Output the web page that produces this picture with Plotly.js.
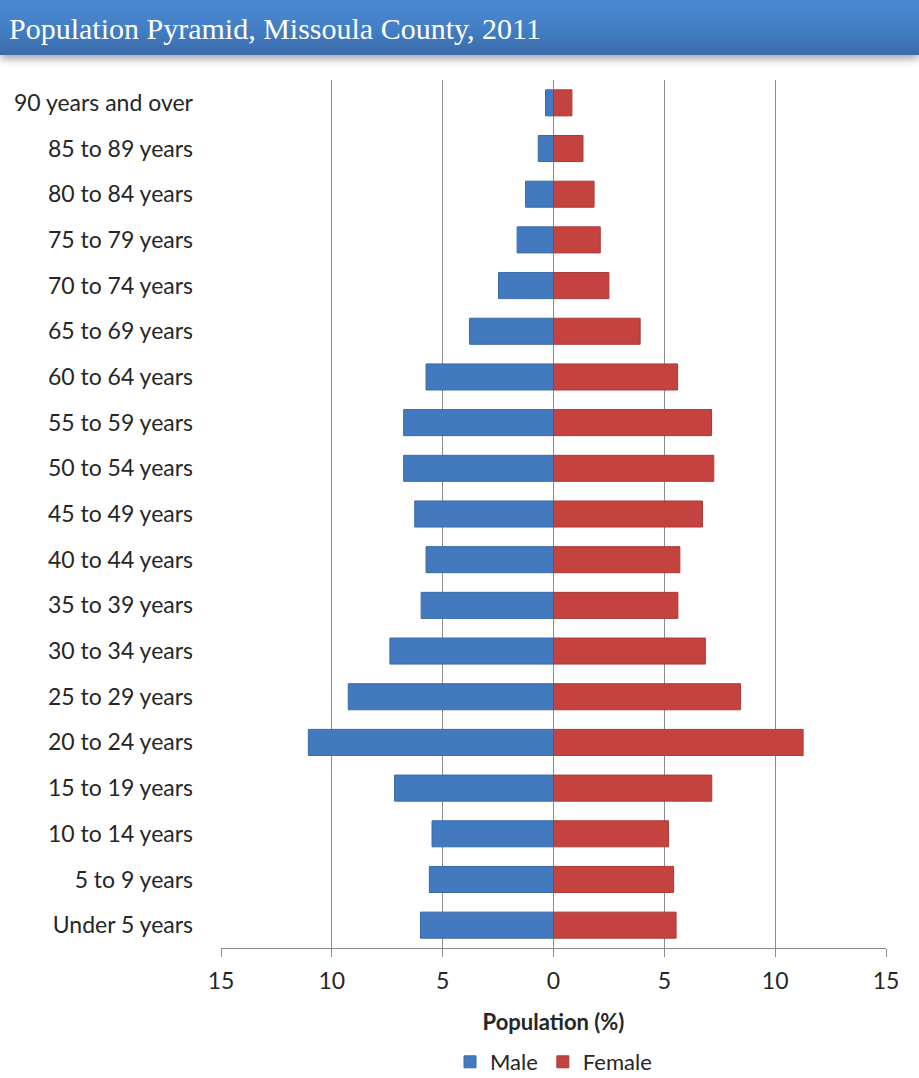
<!DOCTYPE html>
<html>
<head>
<meta charset="utf-8">
<script src="https://cdn.plot.ly/plotly-3.0.1.min.js"></script>
<style>
  html, body { margin: 0; padding: 0; background: #ffffff; }
  #wrap { position: relative; width: 919px; height: 1078px; }
  #band { position: absolute; left: 0; top: 0; width: 919px; height: 55px;
          background: linear-gradient(to bottom, #4a89d2 0%, #437fc6 50%, #3a6ba9 100%);
          box-shadow: 0 4px 8px rgba(0,0,0,0.35); }
  #chart { position: absolute; left: 0; top: 0; width: 919px; height: 1078px; }
</style>
</head>
<body>
<div id="wrap">
  <div id="band"></div>
  <div id="chart"></div>
</div>
<script>
const categories = [
  "Under 5 years", "5 to 9 years", "10 to 14 years", "15 to 19 years",
  "20 to 24 years", "25 to 29 years", "30 to 34 years", "35 to 39 years",
  "40 to 44 years", "45 to 49 years", "50 to 54 years", "55 to 59 years",
  "60 to 64 years", "65 to 69 years", "70 to 74 years", "75 to 79 years",
  "80 to 84 years", "85 to 89 years", "90 years and over"
];
const male = [6.0, 5.6, 5.48, 7.17, 11.06, 9.26, 7.38, 5.97, 5.75, 6.26, 6.76, 6.76, 5.75, 3.79, 2.48, 1.64, 1.26, 0.69, 0.36];
const female = [5.53, 5.42, 5.19, 7.14, 11.26, 8.44, 6.85, 5.61, 5.7, 6.72, 7.23, 7.13, 5.6, 3.91, 2.5, 2.11, 1.83, 1.33, 0.83];
const tickValues = [-15, -10, -5, 0, 5, 10, 15];
const tickLabels = ["15", "10", "5", "0", "5", "10", "15"];
const seriesNames = ["Male", "Female"];

const traces = [
  {
    type: "bar", orientation: "h", name: seriesNames[0],
    y: categories, x: male.map(v => -v),
    marker: { color: "#4279bf", line: { color: "#3a6aa8", width: 1 } },
    hoverinfo: "y+text", text: male.map(v => v + "%"), textposition: "none"
  },
  {
    type: "bar", orientation: "h", name: seriesNames[1],
    y: categories, x: female,
    marker: { color: "#c4433f", line: { color: "#a83a38", width: 1 } },
    hoverinfo: "y+text", text: female.map(v => v + "%"), textposition: "none"
  }
];

const layout = {
  width: 919, height: 1078,
  paper_bgcolor: "rgba(0,0,0,0)", plot_bgcolor: "rgba(0,0,0,0)",
  margin: { l: 221, r: 33, t: 80, b: 130, pad: 0 },
  barmode: "relative", bargap: 0.43,
  font: { family: "Lato, 'Open Sans', sans-serif", size: 23, color: "#262626" },
  title: {
    text: "Population Pyramid, Missoula County, 2011",
    font: { family: "'Liberation Serif', 'DejaVu Serif', serif", size: 30, color: "#ffffff" },
    x: 9 / 919, xanchor: "left", xref: "container",
    y: 1 - 28 / 1078, yanchor: "middle", yref: "container"
  },
  xaxis: {
    range: [-15, 15], tickvals: tickValues, ticktext: tickLabels,
    automargin: false,
    showgrid: true, gridcolor: "#8c8c8c", gridwidth: 1,
    zeroline: true, zerolinecolor: "#8c8c8c", zerolinewidth: 1,
    showline: true, linecolor: "#8c8c8c", linewidth: 1,
    ticks: "outside", ticklen: 8, tickcolor: "#8c8c8c",
    ticklabelstandoff: 4,
    tickfont: { size: 23, color: "#262626" },
    title: { text: "<b>Population (%)</b>", font: { size: 22, color: "#262626" }, standoff: 22 },
    fixedrange: true
  },
  yaxis: {
    type: "category", categoryorder: "array", categoryarray: categories,
    automargin: false,
    showgrid: false, zeroline: false, showline: false,
    ticks: "", ticklabelstandoff: 27,
    tickfont: { size: 23, color: "#262626" },
    fixedrange: true
  },
  showlegend: true,
  legend: {
    orientation: "h", x: 0.5, xanchor: "center", xref: "paper",
    y: 16 / 1078, yanchor: "middle", yref: "container",
    font: { size: 22, color: "#262626" },
    itemwidth: 30, traceorder: "normal", tracegroupgap: 0
  }
};

Plotly.newPlot("chart", traces, layout, { displayModeBar: false, staticPlot: false });
</script>
</body>
</html>
